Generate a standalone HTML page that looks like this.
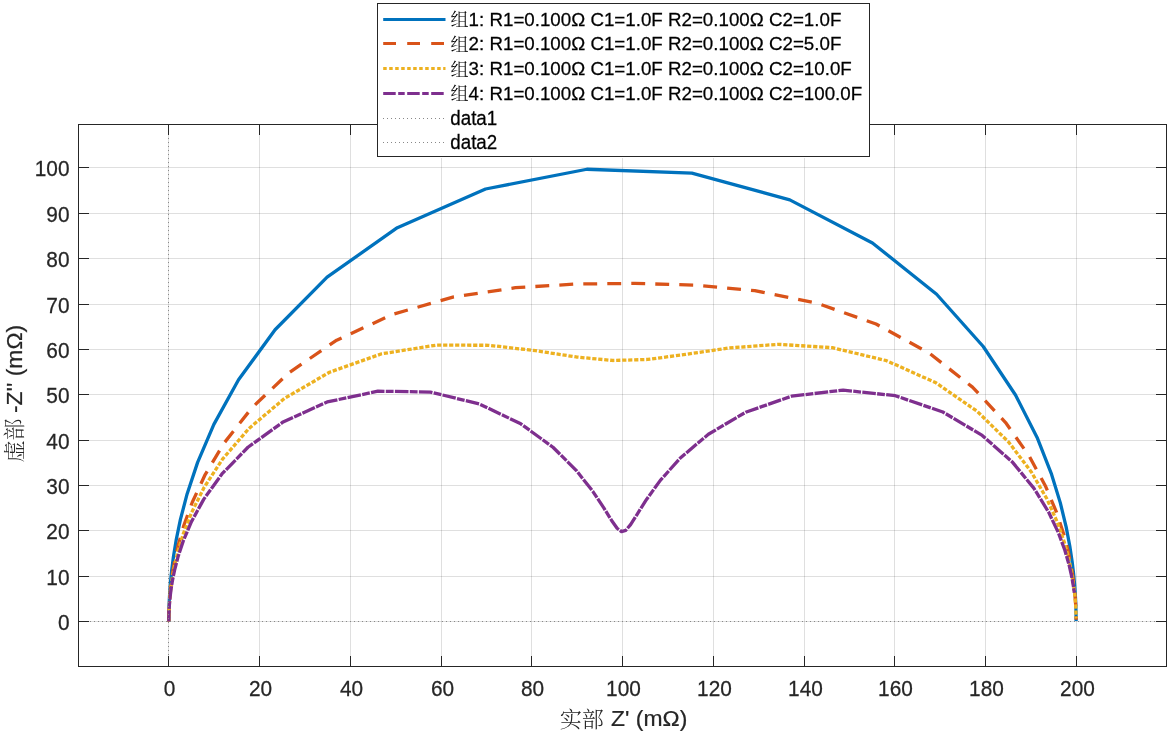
<!DOCTYPE html>
<html lang="zh"><head><meta charset="utf-8"><title>Nyquist</title>
<style>html,body{margin:0;padding:0;background:#fff;}body{width:1170px;height:735px;overflow:hidden;}svg{display:block;}text{font-family:"Liberation Sans","Noto Serif CJK SC",sans-serif;fill:#262626;stroke:#262626;stroke-width:0.25px;}.cj{font-family:"Noto Serif CJK SC","Liberation Sans",serif;font-weight:300;stroke:none;}.tk{font-size:20.83px;}.lb{font-size:22.9px;}.lg .cj{font-size:18.1px;}.lb.cj{font-size:22.1px;}.lg{font-size:18.75px;fill:#000;stroke:#000;}</style></head><body>
<svg width="1170" height="735" viewBox="0 0 1170 735">
<rect x="0" y="0" width="1170" height="735" fill="#fff"/>
<g stroke="#262626" stroke-opacity="0.15" stroke-width="1" shape-rendering="crispEdges">
<line x1="168.5" y1="124.5" x2="168.5" y2="666.5"/>
<line x1="259.5" y1="124.5" x2="259.5" y2="666.5"/>
<line x1="350.5" y1="124.5" x2="350.5" y2="666.5"/>
<line x1="441.5" y1="124.5" x2="441.5" y2="666.5"/>
<line x1="531.5" y1="124.5" x2="531.5" y2="666.5"/>
<line x1="622.5" y1="124.5" x2="622.5" y2="666.5"/>
<line x1="713.5" y1="124.5" x2="713.5" y2="666.5"/>
<line x1="804.5" y1="124.5" x2="804.5" y2="666.5"/>
<line x1="894.5" y1="124.5" x2="894.5" y2="666.5"/>
<line x1="985.5" y1="124.5" x2="985.5" y2="666.5"/>
<line x1="1076.5" y1="124.5" x2="1076.5" y2="666.5"/>
<line x1="78.5" y1="621.5" x2="1166.5" y2="621.5"/>
<line x1="78.5" y1="576.5" x2="1166.5" y2="576.5"/>
<line x1="78.5" y1="530.5" x2="1166.5" y2="530.5"/>
<line x1="78.5" y1="485.5" x2="1166.5" y2="485.5"/>
<line x1="78.5" y1="440.5" x2="1166.5" y2="440.5"/>
<line x1="78.5" y1="394.5" x2="1166.5" y2="394.5"/>
<line x1="78.5" y1="349.5" x2="1166.5" y2="349.5"/>
<line x1="78.5" y1="304.5" x2="1166.5" y2="304.5"/>
<line x1="78.5" y1="258.5" x2="1166.5" y2="258.5"/>
<line x1="78.5" y1="213.5" x2="1166.5" y2="213.5"/>
<line x1="78.5" y1="167.5" x2="1166.5" y2="167.5"/>
</g>
<clipPath id="c"><rect x="78.5" y="124.5" width="1088.0" height="542.0"/></clipPath>
<g clip-path="url(#c)" fill="none" stroke-linejoin="round">
<polyline points="1076.10,620.93 1076.10,620.78 1076.10,620.59 1076.10,620.35 1076.10,620.05 1076.10,619.67 1076.09,619.20 1076.09,618.59 1076.09,617.83 1076.08,616.87 1076.06,615.65 1076.04,614.12 1076.00,612.18 1075.95,609.74 1075.86,606.66 1075.71,602.77 1075.48,597.86 1075.12,591.68 1074.54,583.88 1073.61,574.07 1072.14,561.73 1069.82,546.25 1066.13,526.91 1060.32,502.88 1051.21,473.31 1037.09,437.45 1015.49,394.97 983.23,346.48 936.61,294.24 872.45,242.95 789.78,199.84 691.87,173.19 586.87,169.25 485.56,189.00 397.34,227.64 327.10,277.17 275.07,329.74 238.54,379.81 213.87,424.37 197.62,462.38 187.11,493.92 180.38,519.66 176.10,540.43 173.40,557.08 171.69,570.36 170.62,580.94 169.94,589.34 169.52,596.01 169.25,601.30 169.08,605.49 168.98,608.81 168.91,611.45 168.87,613.54 168.84,615.19 168.83,616.50 168.82,617.54 168.81,618.36 168.81,619.01 168.80,619.53 168.80,619.94 168.80,620.26 168.80,620.52 168.80,620.72 168.80,620.89 168.80,621.01 168.80,621.11 168.80,621.19 168.80,621.26 168.80,621.31 168.80,621.35 168.80,621.38 168.80,621.40 168.80,621.42 168.80,621.44 168.80,621.45 168.80,621.46 168.80,621.47 168.80,621.48 168.80,621.48 168.80,621.49 168.80,621.49 168.80,621.49 168.80,621.49 168.80,621.49 168.80,621.50 168.80,621.50 168.80,621.50 168.80,621.50 168.80,621.50 168.80,621.50" stroke="#0072BD" stroke-width="3.3"/>
<polyline points="1076.10,619.79 1076.09,619.34 1076.09,618.78 1076.08,618.06 1076.07,617.16 1076.05,616.02 1076.02,614.59 1075.98,612.77 1075.91,610.49 1075.79,607.60 1075.61,603.96 1075.32,599.38 1074.86,593.60 1074.13,586.33 1072.96,577.21 1071.12,565.78 1068.21,551.53 1063.65,533.92 1056.56,512.38 1045.69,486.52 1029.37,456.33 1005.60,422.57 972.49,387.08 929.03,352.98 876.07,324.00 816.60,303.03 754.78,290.69 693.82,285.08 634.57,283.41 575.71,284.05 515.50,287.72 453.76,296.95 392.83,314.27 336.71,340.19 289.10,372.63 251.75,407.97 224.33,442.75 205.18,474.56 192.28,502.24 183.81,525.53 178.33,544.70 174.82,560.27 172.60,572.79 171.19,582.81 170.30,590.80 169.75,597.15 169.39,602.20 169.17,606.20 169.03,609.38 168.95,611.89 168.89,613.89 168.86,615.47 168.84,616.72 168.82,617.71 168.81,618.50 168.81,619.12 168.81,619.62 168.80,620.01 168.80,620.32 168.80,620.56 168.80,620.76 168.80,620.91 168.80,621.03 168.80,621.13 168.80,621.21 168.80,621.27 168.80,621.32 168.80,621.35 168.80,621.38 168.80,621.41 168.80,621.43 168.80,621.44 168.80,621.45 168.80,621.46 168.80,621.47 168.80,621.48 168.80,621.48 168.80,621.49 168.80,621.49 168.80,621.49 168.80,621.49 168.80,621.49 168.80,621.50 168.80,621.50 168.80,621.50 168.80,621.50 168.80,621.50 168.80,621.50 168.80,621.50 168.80,621.50" stroke="#D95319" stroke-width="3.3" stroke-dasharray="13.9 10.1" stroke-dashoffset="10.5"/>
<polyline points="1076.08,618.36 1076.07,617.54 1076.05,616.51 1076.03,615.20 1075.98,613.54 1075.91,611.46 1075.80,608.83 1075.63,605.51 1075.35,601.33 1074.91,596.07 1074.20,589.45 1073.09,581.13 1071.32,570.73 1068.52,557.77 1064.15,541.78 1057.34,522.26 1046.92,498.94 1031.29,471.89 1008.57,441.99 977.06,411.23 935.98,382.84 886.55,360.68 832.34,347.69 778.31,344.31 728.75,347.98 685.53,354.42 647.76,359.46 612.59,360.48 576.37,356.99 535.78,350.72 488.92,345.28 436.43,345.13 381.68,353.79 329.60,372.20 284.59,398.34 248.91,428.52 222.53,459.12 204.05,487.57 191.57,512.57 183.36,533.72 178.05,551.20 174.65,565.42 172.49,576.88 171.12,586.05 170.26,593.37 169.72,599.19 169.38,603.81 169.16,607.48 169.03,610.39 168.94,612.69 168.89,614.52 168.86,615.97 168.84,617.12 168.82,618.03 168.81,618.75 168.81,619.32 168.81,619.77 168.80,620.13 168.80,620.42 168.80,620.64 168.80,620.82 168.80,620.96 168.80,621.07 168.80,621.16 168.80,621.23 168.80,621.29 168.80,621.33 168.80,621.37 168.80,621.39 168.80,621.42 168.80,621.43 168.80,621.45 168.80,621.46 168.80,621.47 168.80,621.47 168.80,621.48 168.80,621.48 168.80,621.49 168.80,621.49 168.80,621.49 168.80,621.49 168.80,621.49 168.80,621.50 168.80,621.50 168.80,621.50 168.80,621.50 168.80,621.50 168.80,621.50 168.80,621.50 168.80,621.50" stroke="#EDB120" stroke-width="3.3" stroke-dasharray="4.2 1.8" stroke-dashoffset="2.3"/>
<polyline points="1074.32,592.82 1073.26,585.39 1071.60,576.09 1068.97,564.51 1064.85,550.23 1058.43,532.83 1048.59,512.08 1033.80,488.14 1012.24,461.90 982.20,435.40 942.86,411.97 895.32,395.71 843.14,390.10 791.58,396.23 745.67,412.24 708.40,434.21 680.32,457.99 660.31,480.38 646.53,499.45 637.13,514.29 630.60,524.58 625.72,530.32 621.51,531.55 617.11,528.29 611.61,520.49 603.95,508.12 592.78,491.30 576.41,470.57 552.96,447.23 520.78,423.80 479.39,403.99 430.40,392.05 377.87,391.18 327.20,401.93 283.08,421.94 247.96,447.25 221.94,473.97 203.68,499.35 191.34,521.90 183.21,541.12 177.96,557.06 174.59,570.06 172.45,580.56 171.10,588.96 170.25,595.67 169.71,601.01 169.37,605.26 169.16,608.63 169.03,611.30 168.94,613.42 168.89,615.09 168.86,616.42 168.83,617.48 168.82,618.31 168.81,618.98 168.81,619.50 168.81,619.92 168.80,620.24 168.80,620.51 168.80,620.71 168.80,620.88 168.80,621.01 168.80,621.11 168.80,621.19 168.80,621.25 168.80,621.31 168.80,621.35 168.80,621.38 168.80,621.40 168.80,621.42 168.80,621.44 168.80,621.45 168.80,621.46 168.80,621.47 168.80,621.48 168.80,621.48 168.80,621.48 168.80,621.49 168.80,621.49 168.80,621.49 168.80,621.49 168.80,621.50 168.80,621.50 168.80,621.50 168.80,621.50 168.80,621.50 168.80,621.50 168.80,621.50 168.80,621.50 168.80,621.50" stroke="#7E2F8E" stroke-width="3.3" stroke-dasharray="13.6 1.3 7.8 1.3" stroke-dashoffset="9"/>
</g>
<g stroke="#888888" stroke-width="1" stroke-dasharray="1 3" shape-rendering="crispEdges">
<line x1="90" y1="621.5" x2="1166.5" y2="621.5"/>
<line x1="168.5" y1="126" x2="168.5" y2="666.5"/>
</g>
<g stroke="#262626" stroke-width="1" fill="none" shape-rendering="crispEdges">
<rect x="78.5" y="124.5" width="1088.0" height="542.0"/>
<line x1="168.5" y1="666.5" x2="168.5" y2="656.0"/><line x1="168.5" y1="124.5" x2="168.5" y2="135.0"/>
<line x1="259.5" y1="666.5" x2="259.5" y2="656.0"/><line x1="259.5" y1="124.5" x2="259.5" y2="135.0"/>
<line x1="350.5" y1="666.5" x2="350.5" y2="656.0"/><line x1="350.5" y1="124.5" x2="350.5" y2="135.0"/>
<line x1="441.5" y1="666.5" x2="441.5" y2="656.0"/><line x1="441.5" y1="124.5" x2="441.5" y2="135.0"/>
<line x1="531.5" y1="666.5" x2="531.5" y2="656.0"/><line x1="531.5" y1="124.5" x2="531.5" y2="135.0"/>
<line x1="622.5" y1="666.5" x2="622.5" y2="656.0"/><line x1="622.5" y1="124.5" x2="622.5" y2="135.0"/>
<line x1="713.5" y1="666.5" x2="713.5" y2="656.0"/><line x1="713.5" y1="124.5" x2="713.5" y2="135.0"/>
<line x1="804.5" y1="666.5" x2="804.5" y2="656.0"/><line x1="804.5" y1="124.5" x2="804.5" y2="135.0"/>
<line x1="894.5" y1="666.5" x2="894.5" y2="656.0"/><line x1="894.5" y1="124.5" x2="894.5" y2="135.0"/>
<line x1="985.5" y1="666.5" x2="985.5" y2="656.0"/><line x1="985.5" y1="124.5" x2="985.5" y2="135.0"/>
<line x1="1076.5" y1="666.5" x2="1076.5" y2="656.0"/><line x1="1076.5" y1="124.5" x2="1076.5" y2="135.0"/>
<line x1="78.5" y1="621.5" x2="89.0" y2="621.5"/><line x1="1166.5" y1="621.5" x2="1156.0" y2="621.5"/>
<line x1="78.5" y1="576.5" x2="89.0" y2="576.5"/><line x1="1166.5" y1="576.5" x2="1156.0" y2="576.5"/>
<line x1="78.5" y1="530.5" x2="89.0" y2="530.5"/><line x1="1166.5" y1="530.5" x2="1156.0" y2="530.5"/>
<line x1="78.5" y1="485.5" x2="89.0" y2="485.5"/><line x1="1166.5" y1="485.5" x2="1156.0" y2="485.5"/>
<line x1="78.5" y1="440.5" x2="89.0" y2="440.5"/><line x1="1166.5" y1="440.5" x2="1156.0" y2="440.5"/>
<line x1="78.5" y1="394.5" x2="89.0" y2="394.5"/><line x1="1166.5" y1="394.5" x2="1156.0" y2="394.5"/>
<line x1="78.5" y1="349.5" x2="89.0" y2="349.5"/><line x1="1166.5" y1="349.5" x2="1156.0" y2="349.5"/>
<line x1="78.5" y1="304.5" x2="89.0" y2="304.5"/><line x1="1166.5" y1="304.5" x2="1156.0" y2="304.5"/>
<line x1="78.5" y1="258.5" x2="89.0" y2="258.5"/><line x1="1166.5" y1="258.5" x2="1156.0" y2="258.5"/>
<line x1="78.5" y1="213.5" x2="89.0" y2="213.5"/><line x1="1166.5" y1="213.5" x2="1156.0" y2="213.5"/>
<line x1="78.5" y1="167.5" x2="89.0" y2="167.5"/><line x1="1166.5" y1="167.5" x2="1156.0" y2="167.5"/>
</g>
<g class="tk">
<text class="tk" transform="translate(169.5,695.8) scale(1,1.04)" text-anchor="middle">0</text>
<text class="tk" transform="translate(260.5,695.8) scale(1,1.04)" text-anchor="middle">20</text>
<text class="tk" transform="translate(351.5,695.8) scale(1,1.04)" text-anchor="middle">40</text>
<text class="tk" transform="translate(442.5,695.8) scale(1,1.04)" text-anchor="middle">60</text>
<text class="tk" transform="translate(532.5,695.8) scale(1,1.04)" text-anchor="middle">80</text>
<text class="tk" transform="translate(623.5,695.8) scale(1,1.04)" text-anchor="middle">100</text>
<text class="tk" transform="translate(714.5,695.8) scale(1,1.04)" text-anchor="middle">120</text>
<text class="tk" transform="translate(805.5,695.8) scale(1,1.04)" text-anchor="middle">140</text>
<text class="tk" transform="translate(895.5,695.8) scale(1,1.04)" text-anchor="middle">160</text>
<text class="tk" transform="translate(986.5,695.8) scale(1,1.04)" text-anchor="middle">180</text>
<text class="tk" transform="translate(1077.5,695.8) scale(1,1.04)" text-anchor="middle">200</text>
<text class="tk" transform="translate(69.5,629.8) scale(1,1.04)" text-anchor="end">0</text>
<text class="tk" transform="translate(69.5,584.8) scale(1,1.04)" text-anchor="end">10</text>
<text class="tk" transform="translate(69.5,538.8) scale(1,1.04)" text-anchor="end">20</text>
<text class="tk" transform="translate(69.5,493.8) scale(1,1.04)" text-anchor="end">30</text>
<text class="tk" transform="translate(69.5,448.8) scale(1,1.04)" text-anchor="end">40</text>
<text class="tk" transform="translate(69.5,402.8) scale(1,1.04)" text-anchor="end">50</text>
<text class="tk" transform="translate(69.5,357.8) scale(1,1.04)" text-anchor="end">60</text>
<text class="tk" transform="translate(69.5,312.8) scale(1,1.04)" text-anchor="end">70</text>
<text class="tk" transform="translate(69.5,266.8) scale(1,1.04)" text-anchor="end">80</text>
<text class="tk" transform="translate(69.5,221.8) scale(1,1.04)" text-anchor="end">90</text>
<text class="tk" transform="translate(69.5,175.8) scale(1,1.04)" text-anchor="end">100</text>
</g>
<text class="lb cj" transform="translate(559.7,727.4)">实部</text>
<text class="lb" transform="translate(611.1,726) scale(1,0.93)">Z' (mΩ)</text>
<text class="lb cj" transform="translate(21.8,462.5) rotate(-90)">虚部</text>
<text class="lb" transform="translate(22,413) rotate(-90) scale(1,0.93)">-Z'' (mΩ)</text>
<rect x="377" y="157" width="493" height="1" fill="#fff"/>
<rect x="377.5" y="3.5" width="492" height="153" fill="#fff" stroke="#262626" stroke-width="1" shape-rendering="crispEdges"/>
<line x1="383.2" y1="19.5" x2="445.5" y2="19.5" stroke="#0072BD" stroke-width="3"/>
<text class="lg" transform="translate(450.5,25.5) scale(1,1.02)"><tspan class="cj" dy="0.6">组</tspan><tspan dy="-0.6">1: R1=0.100Ω C1=1.0F R2=0.100Ω C2=1.0F</tspan></text>
<line x1="383.2" y1="43.5" x2="445.5" y2="43.5" stroke="#D95319" stroke-width="3" stroke-dasharray="12.8 11.2"/>
<text class="lg" transform="translate(450.5,50.4) scale(1,1.02)"><tspan class="cj" dy="0.6">组</tspan><tspan dy="-0.6">2: R1=0.100Ω C1=1.0F R2=0.100Ω C2=5.0F</tspan></text>
<line x1="383.2" y1="68.5" x2="445.5" y2="68.5" stroke="#EDB120" stroke-width="3" stroke-dasharray="3.5 2.5"/>
<text class="lg" transform="translate(450.5,75.0) scale(1,1.02)"><tspan class="cj" dy="0.6">组</tspan><tspan dy="-0.6">3: R1=0.100Ω C1=1.0F R2=0.100Ω C2=10.0F</tspan></text>
<line x1="383.2" y1="93.5" x2="445.5" y2="93.5" stroke="#7E2F8E" stroke-width="3" stroke-dasharray="12.5 2.5 6.5 2.5"/>
<text class="lg" transform="translate(450.5,99.7) scale(1,1.02)"><tspan class="cj" dy="0.6">组</tspan><tspan dy="-0.6">4: R1=0.100Ω C1=1.0F R2=0.100Ω C2=100.0F</tspan></text>
<line x1="383" y1="118.5" x2="445.5" y2="118.5" stroke="#888888" stroke-width="1" stroke-dasharray="1 3" shape-rendering="crispEdges"/>
<text class="lg" transform="translate(450.3,124.6) scale(1,1.04)">data1</text>
<line x1="383" y1="142.5" x2="445.5" y2="142.5" stroke="#888888" stroke-width="1" stroke-dasharray="1 3" shape-rendering="crispEdges"/>
<text class="lg" transform="translate(450.3,149.3) scale(1,1.04)">data2</text>
</svg></body></html>
